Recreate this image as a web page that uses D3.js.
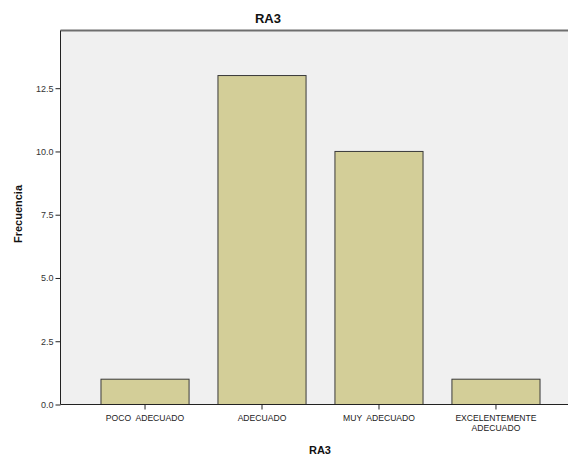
<!DOCTYPE html>
<html>
<head>
<meta charset="utf-8">
<script src="https://cdn.jsdelivr.net/npm/d3@7"></script>
<style>
  html, body { margin: 0; padding: 0; background: #fff; }
  svg { display: block; font-family: Arial, "Liberation Sans", sans-serif; }
</style>
</head>
<body>
<svg id="chart" width="568" height="460"></svg>
<script>
const categories = ["POCO  ADECUADO", "ADECUADO", "MUY  ADECUADO", "EXCELENTEMENTE\nADECUADO"];
const frequencies = [1, 13, 10, 1];
const yTicks = [0, 2.5, 5, 7.5, 10, 12.5];
const chartTitle = "RA3";
const xTitle = "RA3";
const yTitle = "Frecuencia";

(function () {
const svg = d3.select("#chart");
const pLeft = 60.5, pTop = 30.5, pBottom = 404.5, pRight = 580.5;

const x = d3.scaleBand().domain(categories).range([pLeft, pRight]).paddingInner(0.247).paddingOuter(0.346);
const y = d3.scaleLinear().domain([0, 14.78]).range([pBottom, pTop]);

svg.append("rect").attr("x", pLeft).attr("y", pTop).attr("width", pRight - pLeft).attr("height", pBottom - pTop)
  .attr("fill", "#f0f0f0");
svg.append("line").attr("x1", pLeft).attr("x2", 568).attr("y1", pTop).attr("y2", pTop)
  .attr("stroke", "#6e6e6e").attr("stroke-width", 2);

svg.append("g").selectAll("rect").data(frequencies).join("rect")
  .attr("x", (d, i) => x(categories[i]))
  .attr("y", d => y(d))
  .attr("width", x.bandwidth())
  .attr("height", d => y(0) - y(d))
  .attr("fill", "#d3ce98")
  .attr("stroke", "#3a3a3a")
  .attr("stroke-width", 1);

const yAxis = d3.axisLeft(y).tickValues(yTicks).tickFormat(d3.format(".1f")).tickSize(5).tickPadding(2);
const gy = svg.append("g").attr("transform", `translate(${pLeft},0)`).call(yAxis);
gy.select(".domain").attr("stroke", "#222").attr("d", `M0,${pTop}V${pBottom}`);
gy.selectAll(".tick line").attr("stroke", "#222");
gy.selectAll(".tick text").attr("font-size", 9).attr("fill", "#333").attr("font-family", "Arial, 'Liberation Sans', sans-serif");

const xAxis = d3.axisBottom(x).tickSize(5).tickFormat("");
const gx = svg.append("g").attr("transform", `translate(0,${pBottom})`).call(xAxis);
gx.select(".domain").attr("stroke", "#222").attr("d", `M${pLeft},0H568`);
gx.selectAll(".tick line").attr("stroke", "#222");

const lbl = svg.append("g").selectAll("text").data(categories).join("text")
  .attr("x", d => x(d) + x.bandwidth() / 2)
  .attr("y", 421)
  .attr("text-anchor", "middle")
  .attr("font-size", 8.6)
  .attr("fill", "#222")
  .style("white-space", "pre");
lbl.each(function(d) {
  const lines = d.split("\n");
  const t = d3.select(this);
  lines.forEach((l, i) => {
    t.append("tspan").attr("x", x(d) + x.bandwidth() / 2).attr("dy", i === 0 ? 0 : 9.6).text(l);
  });
});

svg.append("text").attr("x", 268).attr("y", 23).attr("text-anchor", "middle")
  .attr("font-size", 13).attr("font-weight", "bold").attr("fill", "#111").text(chartTitle);
svg.append("text").attr("x", 320).attr("y", 454).attr("text-anchor", "middle")
  .attr("font-size", 11).attr("font-weight", "bold").attr("fill", "#111").text(xTitle);
svg.append("text").attr("transform", "translate(22,214) rotate(-90)").attr("text-anchor", "middle")
  .attr("font-size", 11).attr("font-weight", "bold").attr("fill", "#111").text(yTitle);
})();
</script>
</body>
</html>
